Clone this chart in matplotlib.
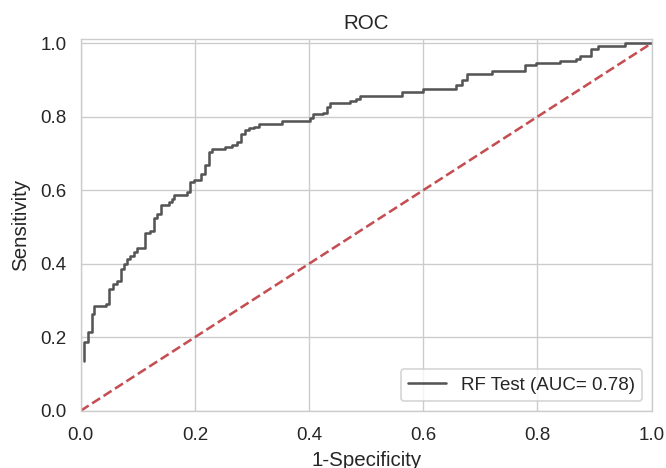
import matplotlib
matplotlib.use("Agg")
import matplotlib.pyplot as plt
import seaborn as sns

# ROC corner points (false positive rate, true positive rate)
fpr = [0.006, 0.006, 0.013, 0.013, 0.020, 0.020, 0.023, 0.023, 0.044, 0.044,
       0.050, 0.050, 0.057, 0.057, 0.064, 0.064, 0.070, 0.070, 0.076, 0.076,
       0.081, 0.081, 0.087, 0.087, 0.093, 0.093, 0.099, 0.099, 0.112, 0.112,
       0.121, 0.121, 0.128, 0.128, 0.134, 0.134, 0.140, 0.140, 0.154, 0.154,
       0.160, 0.160, 0.163, 0.163, 0.186, 0.186, 0.192, 0.192, 0.198, 0.198,
       0.210, 0.210, 0.218, 0.218, 0.224, 0.224, 0.230, 0.230, 0.253, 0.253,
       0.265, 0.265, 0.274, 0.274, 0.281, 0.281, 0.287, 0.287, 0.294, 0.294,
       0.304, 0.304, 0.312, 0.312, 0.352, 0.352, 0.402, 0.402, 0.407, 0.407,
       0.425, 0.425, 0.431, 0.431, 0.437, 0.437, 0.472, 0.472, 0.483, 0.483,
       0.490, 0.490, 0.562, 0.562, 0.600, 0.600, 0.658, 0.658, 0.667, 0.667,
       0.676, 0.676, 0.720, 0.720, 0.778, 0.778, 0.798, 0.798, 0.839, 0.839,
       0.868, 0.868, 0.874, 0.874, 0.894, 0.894, 0.906, 0.906, 0.953, 0.953,
       1.000]
tpr = [0.136, 0.186, 0.186, 0.213, 0.213, 0.263, 0.263, 0.284, 0.284, 0.291,
       0.291, 0.332, 0.332, 0.345, 0.345, 0.353, 0.353, 0.386, 0.386, 0.400,
       0.400, 0.413, 0.413, 0.422, 0.422, 0.431, 0.431, 0.443, 0.443, 0.483,
       0.483, 0.488, 0.488, 0.525, 0.525, 0.536, 0.536, 0.559, 0.559, 0.568,
       0.568, 0.577, 0.577, 0.586, 0.586, 0.595, 0.595, 0.622, 0.622, 0.629,
       0.629, 0.645, 0.645, 0.668, 0.668, 0.704, 0.704, 0.713, 0.713, 0.718,
       0.718, 0.722, 0.722, 0.731, 0.731, 0.754, 0.754, 0.763, 0.763, 0.768,
       0.768, 0.772, 0.772, 0.779, 0.779, 0.787, 0.787, 0.797, 0.797, 0.807,
       0.807, 0.811, 0.811, 0.827, 0.827, 0.836, 0.836, 0.843, 0.843, 0.848,
       0.848, 0.856, 0.856, 0.867, 0.867, 0.876, 0.876, 0.885, 0.885, 0.899,
       0.899, 0.917, 0.917, 0.924, 0.924, 0.940, 0.940, 0.946, 0.946, 0.952,
       0.952, 0.958, 0.958, 0.965, 0.965, 0.985, 0.985, 0.992, 0.992, 1.000,
       1.000]
auc = 0.78
chance = [0, 1]

sns.set_style("whitegrid")
plt.rcParams['font.family'] = ['Liberation Sans', 'DejaVu Sans']

dpi = 123
fig = plt.figure(figsize=(666 / dpi, 468 / dpi), dpi=dpi)
ax = fig.add_axes([0.1212, 0.1224, 0.8573, 0.7932])

ax.plot(fpr, tpr, color="#555555", lw=1.5, label="RF Test (AUC= %0.2f)" % auc)
ax.plot(chance, chance, "--", color="#C44E52", lw=1.5)

ax.set_xlim([0, 1])
ax.set_ylim([0, 1.01])
ax.set_xticks([0, 0.2, 0.4, 0.6, 0.8, 1.0])
ax.set_yticks([0, 0.2, 0.4, 0.6, 0.8, 1.0])
ax.tick_params(axis="both", labelsize=11, colors="#262626")
ax.tick_params(axis="x", pad=5.8)
ax.tick_params(axis="y", pad=4.7)
ax.set_xlabel("1-Specificity", fontsize=12, color="#262626", labelpad=4.5)
ax.set_ylabel("Sensitivity", fontsize=12, color="#262626", labelpad=6)
ax.set_title("ROC", fontsize=12, color="#262626")
ax.legend(loc="lower right", fontsize=11)

fig.savefig("out.png", dpi=dpi)
